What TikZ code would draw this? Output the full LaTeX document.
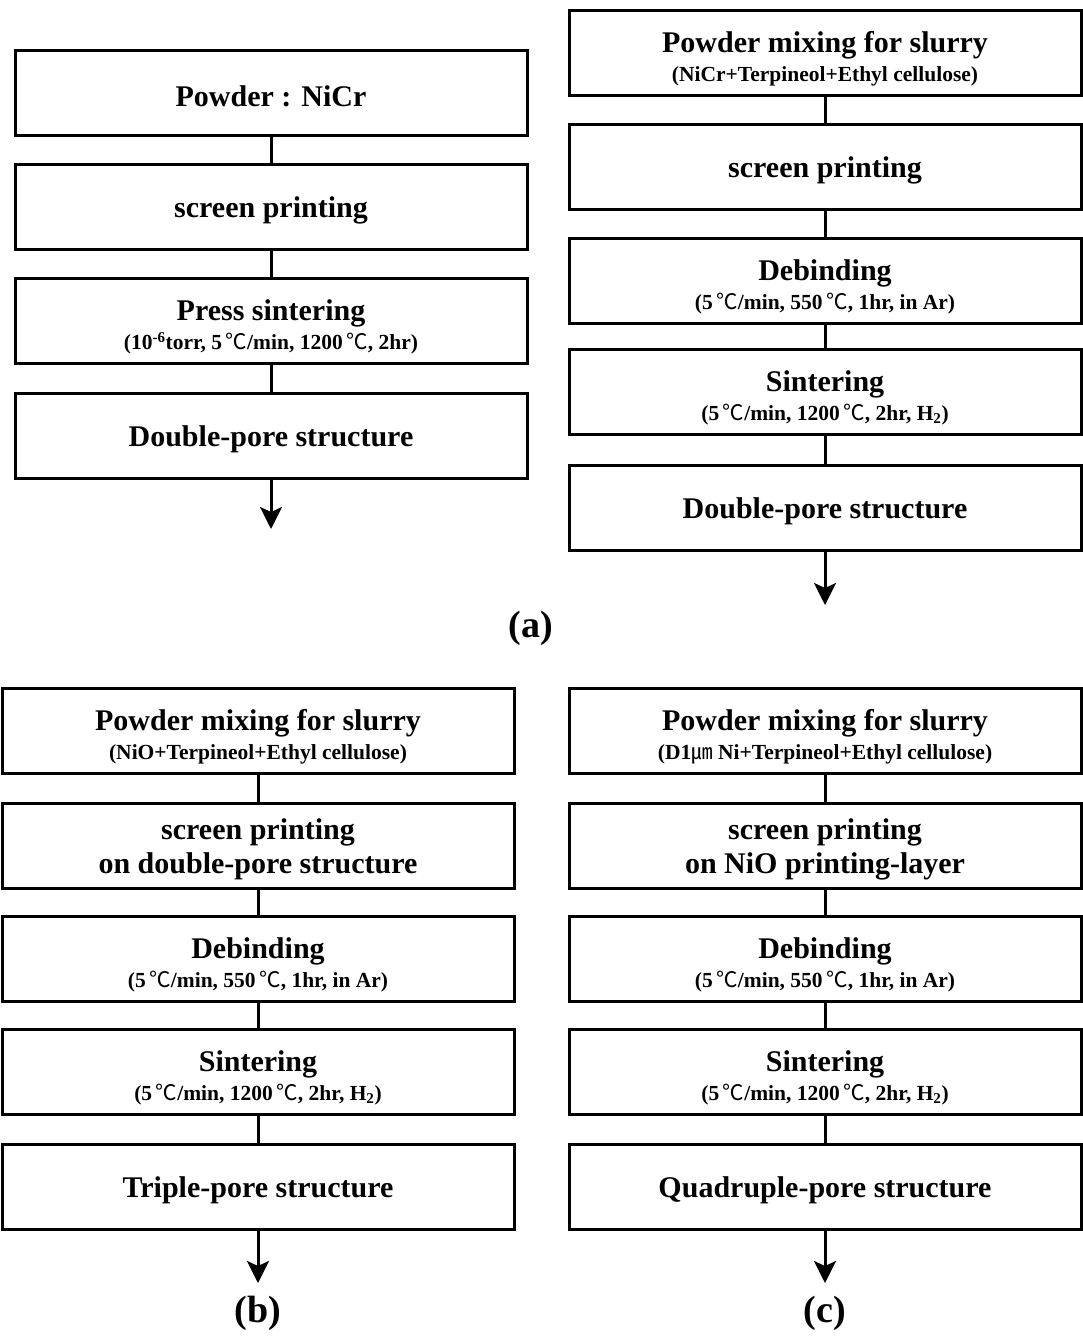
\documentclass[tikz,border=0pt]{standalone}
\usepackage{fontspec}
\setmainfont{Liberation Serif}
\newfontfamily\cjk{Noto Sans CJK KR}
\usetikzlibrary{arrows.meta}
\newcommand{\dgc}{\,{\cjk\mdseries ℃}}
\newcommand{\subtxt}[1]{\\[-5pt]{\fontsize{21.5}{24}\selectfont #1}}
\tikzset{
	box/.style={draw, line width=3pt, minimum width=512pt, minimum height=85pt, inner sep=0pt, align=center, font=\fontsize{30}{34}\selectfont\bfseries, execute at begin node=\rule{0pt}{28pt}},
	two/.style={text height=62pt},
	link/.style={line width=3pt},
	arr/.style={line width=3pt, -{Stealth[length=22pt,width=22pt,inset=5pt]}},
	tag/.style={font=\fontsize{38}{42}\selectfont\bfseries}
}
\begin{document}
\begin{tikzpicture}[x=1pt, y=-1pt]
	\useasboundingbox (0,0) rectangle (1082,1336);
	% (a) left: press sintering
	\node[box] (p1) at (271,93) {Powder : NiCr};
	\node[box] (p2) at (271,207) {screen printing};
	\node[box, two] (p3) at (271,321) {Press sintering\subtxt{(10\textsuperscript{-6}torr, 5\dgc/min, 1200\dgc, 2hr)}};
	\node[box] (p4) at (271,436) {Double-pore structure};
	\coordinate (pend) at (271,529);
	\draw[link] (p1) -- (p2);
	\draw[link] (p2) -- (p3);
	\draw[link] (p3) -- (p4);
	\draw[arr] (p4) -- (pend);

	% (a) right: slurry route
	\node[box, two] (s1) at (825,53) {Powder mixing for slurry\subtxt{(NiCr+Terpineol+Ethyl cellulose)}};
	\node[box] (s2) at (825,167) {screen printing};
	\node[box, two] (s3) at (825,281) {Debinding\subtxt{(5\dgc/min, 550\dgc, 1hr, in Ar)}};
	\node[box, two] (s4) at (825,392) {Sintering\subtxt{(5\dgc/min, 1200\dgc, 2hr, H\textsubscript{2})}};
	\node[box] (s5) at (825,508) {Double-pore structure};
	\coordinate (send) at (825,605);
	\draw[link] (s1) -- (s2);
	\draw[link] (s2) -- (s3);
	\draw[link] (s3) -- (s4);
	\draw[link] (s4) -- (s5);
	\draw[arr] (s5) -- (send);
	\node[tag] (taga) at (531,628) {(a)};

	% (b) triple-pore
	\node[box, two] (t1) at (258,731) {Powder mixing for slurry\subtxt{(NiO+Terpineol+Ethyl cellulose)}};
	\node[box, two] (t2) at (258,846) {screen printing\\on double-pore structure};
	\node[box, two] (t3) at (258,959) {Debinding\subtxt{(5\dgc/min, 550\dgc, 1hr, in Ar)}};
	\node[box, two] (t4) at (258,1072) {Sintering\subtxt{(5\dgc/min, 1200\dgc, 2hr, H\textsubscript{2})}};
	\node[box] (t5) at (258,1187) {Triple-pore structure};
	\coordinate (tend) at (258,1283);
	\draw[link] (t1) -- (t2);
	\draw[link] (t2) -- (t3);
	\draw[link] (t3) -- (t4);
	\draw[link] (t4) -- (t5);
	\draw[arr] (t5) -- (tend);
	\node[tag] (tagb) at (258,1313) {(b)};

	% (c) quadruple-pore
	\node[box, two] (q1) at (825,731) {Powder mixing for slurry\subtxt{(D1{\cjk\mdseries ㎛} Ni+Terpineol+Ethyl cellulose)}};
	\node[box, two] (q2) at (825,846) {screen printing\\on NiO printing-layer};
	\node[box, two] (q3) at (825,959) {Debinding\subtxt{(5\dgc/min, 550\dgc, 1hr, in Ar)}};
	\node[box, two] (q4) at (825,1072) {Sintering\subtxt{(5\dgc/min, 1200\dgc, 2hr, H\textsubscript{2})}};
	\node[box] (q5) at (825,1187) {Quadruple-pore structure};
	\coordinate (qend) at (825,1283);
	\draw[link] (q1) -- (q2);
	\draw[link] (q2) -- (q3);
	\draw[link] (q3) -- (q4);
	\draw[link] (q4) -- (q5);
	\draw[arr] (q5) -- (qend);
	\node[tag] (tagc) at (825,1313) {(c)};
\end{tikzpicture}
\end{document}
